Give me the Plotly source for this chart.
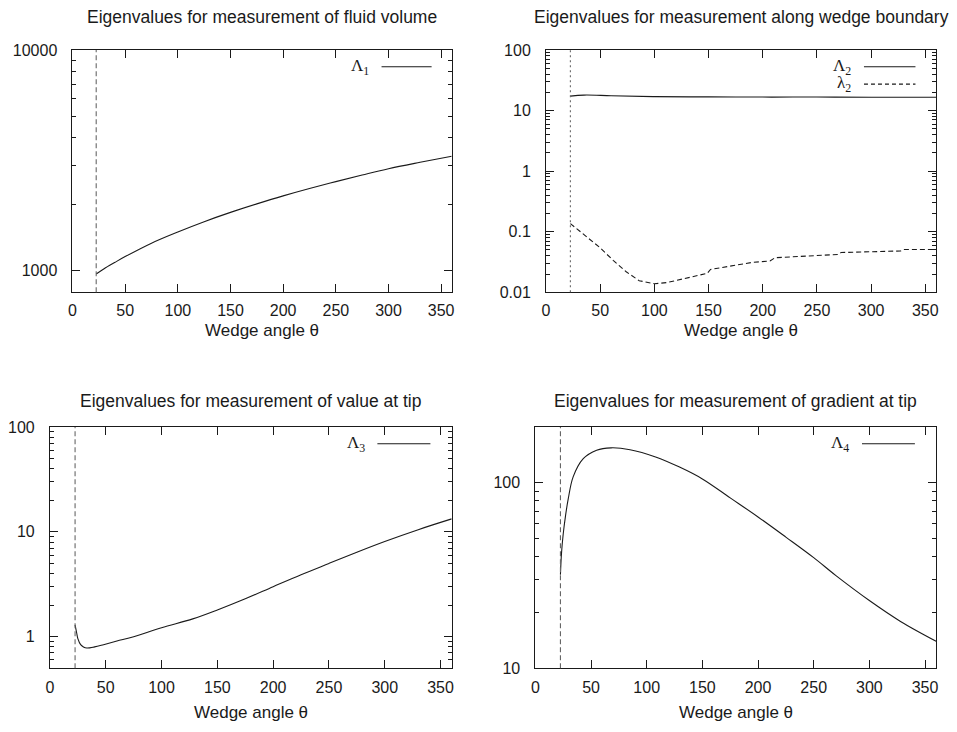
import numpy as np
import plotly.graph_objects as go

# Smallest admissible wedge angle (vertical marker in every panel)
THETA_MIN = 22.5

# Eigenvalue for measurement of fluid volume
theta1 = [22.5, 30, 40, 50, 75, 100, 125, 150, 175, 200, 225, 250, 275, 300, 330, 360]
Lam1 = [967, 1022, 1090, 1160, 1335, 1500, 1670, 1840, 2010, 2185, 2360, 2535, 2715, 2900, 3100, 3300]

# Eigenvalues for measurement along wedge boundary
theta2 = [22.5, 35, 60, 100, 150, 200, 250, 300, 360]
Lam2 = [17.3, 18.0, 17.6, 17.0, 16.8, 16.7, 16.7, 16.6, 16.6]
theta2s = [22.5, 35, 49.5, 62, 74, 86, 100, 112, 123, 136, 148.7, 151.8, 165, 178, 190,
           206.7, 211.3, 240, 269.3, 272.3, 300, 327.3, 330.4, 360]
lam2 = [0.136, 0.089, 0.055, 0.0336, 0.0218, 0.0155, 0.0138, 0.0145, 0.016, 0.018, 0.0205,
        0.0238, 0.0262, 0.0286, 0.031, 0.0328, 0.0371, 0.0395, 0.042, 0.0453, 0.0465, 0.048,
        0.0507, 0.0507]

# Eigenvalue for measurement of value at tip
theta3 = [22.5, 24, 25, 27.5, 30, 33, 40, 48, 60, 75, 100, 128, 150, 175, 200, 225, 250,
          275, 300, 330, 360]
Lam3 = [1.30, 1.08, 0.96, 0.84, 0.80, 0.78, 0.80, 0.84, 0.91, 1.0, 1.22, 1.48, 1.80, 2.3,
        3.0, 3.9, 5.0, 6.4, 8.1, 10.5, 13.3]

# Eigenvalue for measurement of gradient at tip
theta4 = [22.5, 23.5, 25, 27, 29.5, 34, 43, 55, 68, 85, 108, 129, 150, 175, 200, 225, 250,
          270, 300, 328, 360]
Lam4 = [32, 42, 53, 66, 82, 108, 135, 150, 154.5, 151, 138, 122, 105, 83, 65.5, 51, 39.5,
        31.6, 23.2, 17.9, 14.0]

x_ticks = [0, 50, 100, 150, 200, 250, 300, 350]

titles = [
    "Eigenvalues for measurement of fluid volume",
    "Eigenvalues for measurement along wedge boundary",
    "Eigenvalues for measurement of value at tip",
    "Eigenvalues for measurement of gradient at tip",
]

W, H = 957, 732
SANS = "Liberation Sans, Arial, sans-serif"
SERIF = "Liberation Serif, Times New Roman, serif"
INK = "#1a1a1a"

# plot-area boxes in pixels: (left, right, top, bottom)
boxes = [
    (69, 451, 43, 291),
    (546, 939, 43, 291),
    (46.3, 451, 429, 676),
    (535.3, 939, 429, 676),
]


def dom(box):
    l, r, t, b = box
    return [l / W, r / W], [1 - b / H, 1 - t / H]


def decade_minors(lo_exp, hi_exp):
    vals = []
    for e in range(lo_exp, hi_exp):
        for m in range(2, 10):
            vals.append(m * 10.0 ** e)
    return vals


y_specs = [
    dict(range=[np.log10(800), 4], tickvals=[1000, 10000], ticktext=["1000", "10000"],
         minor=decade_minors(3, 4)),
    dict(range=[-2, 2], tickvals=[0.01, 0.1, 1, 10, 100],
         ticktext=["0.01", "0.1", "1", "10", "100"], minor=decade_minors(-2, 2)),
    dict(range=[np.log10(0.5), 2], tickvals=[1, 10, 100], ticktext=["1", "10", "100"],
         minor=[0.6, 0.7, 0.8, 0.9] + decade_minors(0, 2)),
    dict(range=[1, np.log10(200)], tickvals=[10, 100], ticktext=["10", "100"],
         minor=decade_minors(1, 2) + [200]),
]

fig = go.Figure()

series = [
    [(theta1, Lam1, "solid", "spline")],
    [(theta2, Lam2, "solid", "spline"), (theta2s, lam2, "5px,3px", "linear")],
    [(theta3, Lam3, "solid", "spline")],
    [(theta4, Lam4, "solid", "spline")],
]

layout = dict(
    width=W, height=H, margin=dict(l=0, r=0, t=0, b=0),
    paper_bgcolor="white", plot_bgcolor="white", showlegend=False,
    font=dict(family=SANS, size=16, color=INK),
)

annotations = []
shapes = []

legend_labels = [
    ["Λ<sub>1</sub>"],
    ["Λ<sub>2</sub>", "λ<sub>2</sub>"],
    ["Λ<sub>3</sub>"],
    ["Λ<sub>4</sub>"],
]

for i in range(4):
    n = "" if i == 0 else str(i + 1)
    xd, yd = dom(boxes[i])
    ys = y_specs[i]
    common = dict(
        showline=True, linecolor=INK, linewidth=1, mirror="allticks",
        ticks="inside", ticklen=8, tickcolor=INK, tickwidth=1,
        showgrid=False, zeroline=False,
        tickfont=dict(family=SANS, size=16, color=INK),
    )
    layout["xaxis" + n] = dict(
        domain=xd, anchor="y" + n, range=[0, 360], tickmode="array", tickvals=x_ticks,
        ticklabelstandoff=4, **common,
    )
    layout["yaxis" + n] = dict(
        domain=yd, anchor="x" + n, type="log", range=ys["range"], tickmode="array",
        tickvals=ys["tickvals"], ticktext=ys["ticktext"], ticklabelstandoff=11,
        minor=dict(tickmode="array", tickvals=ys["minor"], ticks="inside", ticklen=4,
                   tickcolor=INK, tickwidth=1, showgrid=False),
        **common,
    )

    for j, (tx, ty, dash, shape) in enumerate(series[i]):
        fig.add_trace(go.Scatter(
            x=tx, y=ty, mode="lines", xaxis="x" + n, yaxis="y" + n,
            line=dict(color=INK, width=1.1, dash=dash, shape=shape,
                      smoothing=1.0 if shape == "spline" else None),
            hoverinfo="skip",
        ))
        # legend entry: label then a short line sample, top-right inside the frame
        ly = 0.931 - j * 0.072
        annotations.append(dict(
            xref=("x" + n + " domain"), yref=("y" + n + " domain"),
            x=0.788, y=ly, xanchor="right", yanchor="middle", showarrow=False,
            text=legend_labels[i][j], font=dict(family=SERIF, size=17, color=INK),
        ))
        shapes.append(dict(
            type="line", xref=("x" + n + " domain"), yref=("y" + n + " domain"),
            x0=0.815, x1=0.947, y0=ly, y1=ly,
            line=dict(color=INK, width=1.1, dash=("solid" if dash == "solid" else "4px,3px")),
        ))

    # vertical marker at the smallest wedge angle
    shapes.append(dict(
        type="line", xref="x" + n, yref="y" + n + " domain",
        x0=THETA_MIN, x1=THETA_MIN, y0=0, y1=1,
        line=dict(color="#666666", width=1.1, dash=("2px,3px" if i == 1 else "5px,3px")),
    ))

    # panel title and x-axis label
    l, r, t, b = boxes[i]
    cx = (l + r) / 2 / W
    title_y = 9 if i < 2 else 402
    xlabel_y = 330 if i < 2 else 721
    annotations.append(dict(
        xref="paper", yref="paper", x=cx, y=1 - title_y / H, xanchor="center",
        yanchor="middle", showarrow=False, text=titles[i],
        font=dict(family=SANS, size=17.5, color=INK),
    ))
    annotations.append(dict(
        xref="paper", yref="paper", x=cx, y=1 - xlabel_y / H, xanchor="center",
        yanchor="middle", showarrow=False, text="Wedge angle θ",
        font=dict(family=SANS, size=17, color=INK),
    ))

layout["annotations"] = annotations
layout["shapes"] = shapes
fig.update_layout(**layout)
fig.write_html("out.html")
